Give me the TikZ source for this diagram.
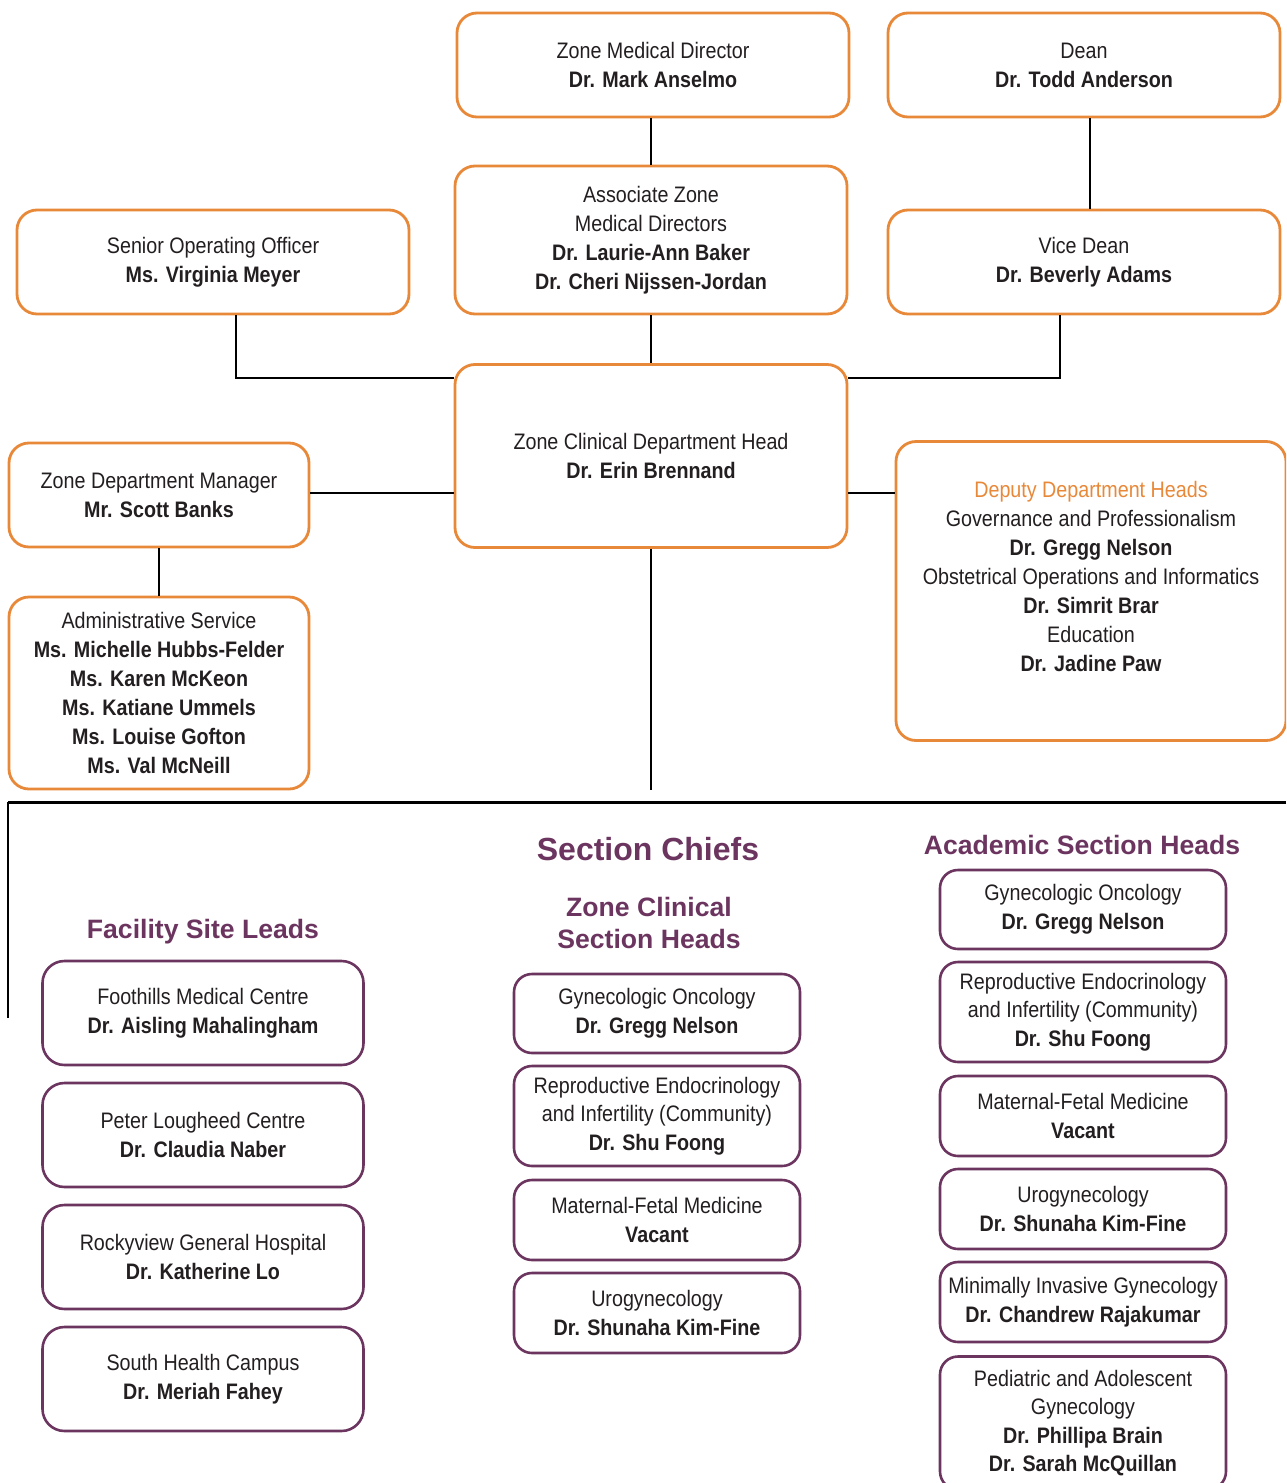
\documentclass[tikz,border=0pt]{standalone}
\usepackage{fontspec}
\setmainfont{Liberation Sans}[FakeStretch=0.88]
\newfontfamily\headfont{Liberation Sans}
\definecolor{boxorange}{HTML}{E8893A}
\definecolor{boxpurple}{HTML}{6B3560}
\definecolor{textgray}{HTML}{231F20}
\begin{document}
\begin{tikzpicture}[x=0.5pt,y=-0.5pt,
    orgbox/.style = {draw=boxorange, line width=1.4pt, rounded corners=10pt, fill=white, align=center, text=textgray, inner sep=0pt, font=\fontsize{11.2}{14.5}\selectfont},
    secbox/.style = {draw=boxpurple, line width=1.3pt, rounded corners=9pt, fill=white, align=center, text=textgray, inner sep=0pt, minimum width=143pt, font=\fontsize{11.2}{14.3}\selectfont},
    sitebox/.style = {secbox, minimum width=160.5pt, minimum height=52pt, rounded corners=11pt},
    heading/.style = {text=boxpurple, align=center, font=\headfont\bfseries\fontsize{13.3}{16}\selectfont},
    link/.style = {line width=1.1pt}]
    \useasboundingbox (0,0) rectangle (1286,1483);
    \clip (0,0) rectangle (1286,1483);
    % leadership
    \node[orgbox, minimum width=196pt, minimum height=52pt] (zmd) at (653,65) {Zone Medical Director\\\textbf{Dr. Mark Anselmo}};
    \node[orgbox, minimum width=196pt, minimum height=52pt] (dean) at (1084,65) {Dean\\\textbf{Dr. Todd Anderson}};
    \node[orgbox, minimum width=196pt, minimum height=74pt] (assoc) at (651,240) {Associate Zone\\Medical Directors\\\textbf{Dr. Laurie-Ann Baker}\\\textbf{Dr. Cheri Nijssen-Jordan}};
    \node[orgbox, minimum width=196pt, minimum height=52pt] (soo) at (213,262) {Senior Operating Officer\\\textbf{Ms. Virginia Meyer}};
    \node[orgbox, minimum width=196pt, minimum height=52pt] (vdean) at (1084,262) {Vice Dean\\\textbf{Dr. Beverly Adams}};
    \node[orgbox, minimum width=196pt, minimum height=91.5pt] (head) at (651,456) {Zone Clinical Department Head\\\textbf{Dr. Erin Brennand}};
    \node[orgbox, minimum width=150pt, minimum height=52pt] (zdm) at (159,495) {Zone Department Manager\\\textbf{Mr. Scott Banks}};
    \node[orgbox, minimum width=150pt, minimum height=96pt] (admin) at (159,693) {Administrative Service\\\textbf{Ms. Michelle Hubbs-Felder}\\\textbf{Ms. Karen McKeon}\\\textbf{Ms. Katiane Ummels}\\\textbf{Ms. Louise Gofton}\\\textbf{Ms. Val McNeill}};
    \node[orgbox, minimum width=195pt, minimum height=149.5pt] (deputy) at (1091,591) {\textcolor{boxorange}{Deputy Department Heads}\\Governance and Professionalism\\\textbf{Dr. Gregg Nelson}\\Obstetrical Operations and Informatics\\\textbf{Dr. Simrit Brar}\\Education\\\textbf{Dr. Jadine Paw}\\\mbox{}};
    \draw[link] (assoc.north |- zmd.south) -- (assoc.north);
    \draw[link] ([xshift=3pt]dean.south) -- ([xshift=3pt]vdean.north);
    \draw[link] (assoc.south) -- (head.north);
    \draw[link] ([xshift=11.5pt]soo.south) |- ([yshift=-7.5pt]head.north west);
    \draw[link] ([xshift=-12pt]vdean.south) |- ([yshift=-7.5pt]head.north east);
    \draw[link] ([yshift=1pt]zdm.east) -- ([yshift=1pt]zdm.east -| head.west);
    \draw[link] ([yshift=1pt]zdm.east -| head.east) -- ([yshift=1pt]zdm.east -| deputy.west);
    \draw[link] (zdm.south) -- (admin.north);
    % bus to the sections
    \coordinate (drop) at (651,790);
    \coordinate (busL) at (8,802);
    \coordinate (busR) at (1286,802);
    \coordinate (busend) at (8,1018);
    \draw[link] (head.south) -- (drop);
    \draw[line width=1.5pt] (busR) -- (busL);
    \draw[link] (busL) -- (busend);
    % headings
    \node[heading, font=\headfont\bfseries\fontsize{16}{19}\selectfont] (chiefs) at (648,849) {Section Chiefs};
    \node[heading] (acad) at (1082,845) {Academic Section Heads};
    \node[heading] (sites) at (203,932) {Facility Site Leads};
    \node[heading] (zcsh) at (649,923) {Zone Clinical\\Section Heads};
    % facility site leads
    \foreach \y/\site/\lead [count=\i] in {1013/Foothills Medical Centre/Dr. Aisling Mahalingham, 1135/Peter Lougheed Centre/Dr. Claudia Naber, 1257/Rockyview General Hospital/Dr. Katherine Lo, 1379/South Health Campus/Dr. Meriah Fahey}
        \node[sitebox] (site\i) at (203,\y) {\site\\\textbf{\lead}};
    % zone clinical section heads
    \node[secbox, minimum height=39.5pt] (zc1) at (657,1013.5) {Gynecologic Oncology\\\textbf{Dr. Gregg Nelson}};
    \node[secbox, minimum height=50pt] (zc2) at (657,1116) {Reproductive Endocrinology\\and Infertility (Community)\\\textbf{Dr. Shu Foong}};
    \node[secbox, minimum height=40pt] (zc3) at (657,1220) {Maternal-Fetal Medicine\\\textbf{Vacant}};
    \node[secbox, minimum height=40pt] (zc4) at (657,1313) {Urogynecology\\\textbf{Dr. Shunaha Kim-Fine}};
    % academic section heads
    \node[secbox, minimum height=39.5pt] (ac1) at (1083,909.5) {Gynecologic Oncology\\\textbf{Dr. Gregg Nelson}};
    \node[secbox, minimum height=50pt] (ac2) at (1083,1012) {Reproductive Endocrinology\\and Infertility (Community)\\\textbf{Dr. Shu Foong}};
    \node[secbox, minimum height=40pt] (ac3) at (1083,1116) {Maternal-Fetal Medicine\\\textbf{Vacant}};
    \node[secbox, minimum height=40pt] (ac4) at (1083,1209) {Urogynecology\\\textbf{Dr. Shunaha Kim-Fine}};
    \node[secbox, minimum height=40pt] (ac5) at (1083,1302) {Minimally Invasive Gynecology\\\textbf{Dr. Chandrew Rajakumar}};
    \node[secbox, minimum height=66.5pt] (ac6) at (1083,1423) {Pediatric and Adolescent\\Gynecology\\\textbf{Dr. Phillipa Brain}\\\textbf{Dr. Sarah McQuillan}};
\end{tikzpicture}
\end{document}
